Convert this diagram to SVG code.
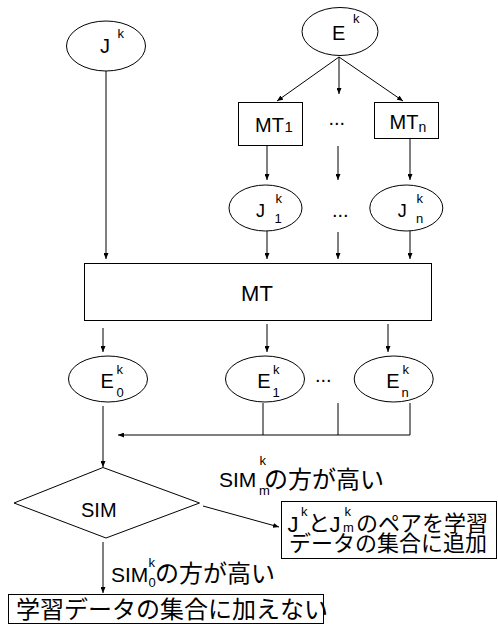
<svg xmlns="http://www.w3.org/2000/svg" width="498" height="625" viewBox="0 0 498 625">
<defs>
<marker id="ah" viewBox="0 0 6 5" markerWidth="6" markerHeight="5" refX="6" refY="2.5" orient="auto" markerUnits="userSpaceOnUse"><path d="M0,0 L6,2.5 L0,5 z" fill="#000"/></marker>
<style>
.s{fill:#fff;stroke:#000;stroke-width:1}
#connectors line,#connectors polyline{stroke:#000;stroke-width:1;fill:none}
.a{marker-end:url(#ah)}
text{font-family:"Liberation Sans","Noto Sans CJK JP",sans-serif;fill:#000}
.L{font-size:20px}
.J{font-size:18px}
.sm{font-size:13px}
.m{font-size:22px}
.mt{font-size:20px}
.sim{font-size:21px}
.t{font-size:24px}
</style>
</defs>
<rect width="498" height="625" fill="#fff"/>

<g id="connectors">
<line class="a" x1="106" y1="71" x2="106" y2="259"/>
<line class="a" x1="339" y1="57" x2="277" y2="101"/>
<line class="a" x1="339" y1="57" x2="339" y2="94"/>
<line class="a" x1="339" y1="57" x2="403" y2="101"/>
<line class="a" x1="267" y1="145" x2="267" y2="180"/>
<line class="a" x1="338" y1="146" x2="338" y2="180"/>
<line class="a" x1="410" y1="138" x2="410" y2="180"/>
<line class="a" x1="267" y1="231" x2="267" y2="259"/>
<line class="a" x1="338" y1="232" x2="338" y2="259"/>
<line class="a" x1="410" y1="231" x2="410" y2="259"/>
<line class="a" x1="103" y1="328" x2="103" y2="352"/>
<line class="a" x1="267" y1="324" x2="267" y2="352"/>
<line class="a" x1="388" y1="324" x2="388" y2="352"/>
<line class="a" x1="103" y1="406" x2="103" y2="467"/>
<line x1="263" y1="403" x2="263" y2="435"/>
<line x1="338" y1="403" x2="338" y2="435"/>
<polyline class="a" points="410,403 410,435 118,435"/>
<line class="a" x1="203" y1="506" x2="279" y2="527"/>
<line class="a" x1="103" y1="542" x2="103" y2="593"/>
</g>

<g id="Jk">
<ellipse class="s" cx="106" cy="46" rx="39.5" ry="25"/>
<text class="L" x="105" y="53" text-anchor="middle">J</text>
<text class="sm" x="117.5" y="38.3">k</text>
</g>

<g id="Ek">
<ellipse class="s" cx="340" cy="31.5" rx="38" ry="24"/>
<text class="L" x="332" y="40">E</text>
<text class="sm" x="353" y="23.3">k</text>
</g>

<g id="MT1">
<rect class="s" x="238.5" y="102.5" width="64" height="43"/>
<text class="mt" x="255" y="132.3">MT</text>
<text x="284.5" y="132.3" font-size="15">1</text>
</g>

<g id="dots1"><text class="L" x="328.5" y="124.5">...</text></g>

<g id="MTn">
<rect class="s" x="374.5" y="102.5" width="64" height="36"/>
<text class="mt" x="389.5" y="129.3">MT</text>
<text x="418.5" y="131.7" font-size="14">n</text>
</g>

<g id="J1">
<ellipse class="s" cx="265.5" cy="208" rx="36.5" ry="23"/>
<text class="J" x="256" y="216.7">J</text>
<text class="sm" x="275.5" y="203.3">k</text>
<text class="sm" x="274.5" y="223.3">1</text>
</g>

<g id="dots2"><text class="L" x="332" y="216.5">...</text></g>

<g id="Jn">
<ellipse class="s" cx="406.3" cy="208" rx="36.5" ry="23"/>
<text class="J" x="397.8" y="216.7">J</text>
<text class="sm" x="416.5" y="203.3">k</text>
<text class="sm" x="416" y="223.3">n</text>
</g>

<g id="MT">
<rect class="s" x="84.5" y="263.5" width="347" height="57"/>
<text class="m" x="257" y="300.7" text-anchor="middle">MT</text>
</g>

<g id="E0">
<ellipse class="s" cx="108" cy="379" rx="39.5" ry="23"/>
<text class="L" x="100.5" y="388.3">E</text>
<text class="sm" x="116.5" y="374">k</text>
<text class="sm" x="116.5" y="396.7">0</text>
</g>

<g id="E1">
<ellipse class="s" cx="265" cy="379" rx="39.5" ry="23"/>
<text class="L" x="257.3" y="388.3">E</text>
<text class="sm" x="273" y="374">k</text>
<text class="sm" x="272.5" y="396.7">1</text>
</g>

<g id="dots3"><text class="L" x="315" y="381.5">...</text></g>

<g id="En">
<ellipse class="s" cx="393.7" cy="379" rx="39.5" ry="23"/>
<text class="L" x="386.3" y="388.3">E</text>
<text class="sm" x="402.5" y="374">k</text>
<text class="sm" x="401.5" y="396.7">n</text>
</g>

<g id="SIM">
<polygon class="s" points="103,467.5 199.5,503 106,538 14,503"/>
<text class="L" x="81" y="517.3">SIM</text>
</g>

<g id="label-m">
<text class="sim" x="219" y="487">SIM</text>
<text class="sm" x="259.5" y="465">k</text>
<text class="sm" x="259" y="495">m</text>
<text class="t" x="264" y="488">の方が高い</text>
</g>

<g id="add">
<rect class="s" x="281.5" y="501.5" width="215" height="57"/>
<text class="m" x="287.5" y="531.7">J</text>
<text class="sm" x="301" y="515.7">k</text>
<text class="m" x="308" y="531">と</text>
<text class="m" x="329.5" y="531.7">J</text>
<text class="sm" x="344.5" y="515.7">k</text>
<text class="sm" x="343" y="531.7">m</text>
<text class="m" x="356" y="531">のペアを学習</text>
<text class="m" x="289" y="551">データの集合に追加</text>
</g>

<g id="label-0">
<text class="sim" x="111" y="581.7">SIM</text>
<text class="sm" x="148.5" y="566.7">k</text>
<text class="sm" x="148.5" y="586.7">0</text>
<text class="t" x="155" y="582">の方が高い</text>
</g>

<g id="noadd">
<rect class="s" x="8.5" y="594.5" width="315" height="29"/>
<text class="t" x="16" y="618">学習データの集合に加えない</text>
</g>
</svg>
